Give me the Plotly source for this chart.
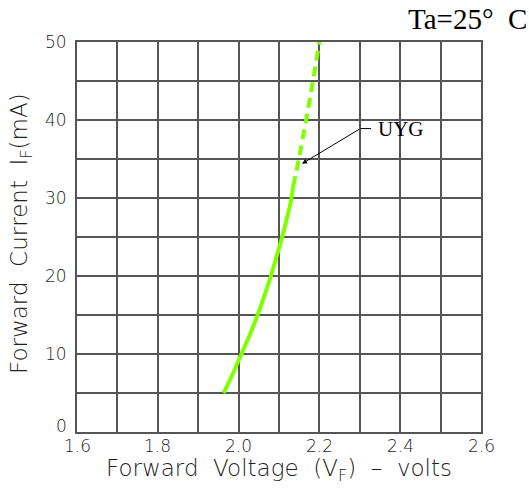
import plotly.graph_objects as go

# Forward voltage (V) vs forward current (mA) for UYG, Ta=25°C
v_solid = [1.963, 1.986, 2.007, 2.028, 2.047, 2.064, 2.080, 2.094, 2.108, 2.120, 2.131, 2.135]
i_solid = [5, 7.5, 10, 12.5, 15, 17.5, 20, 22.5, 25, 27.5, 30, 31.5]
v_dash = [2.135, 2.149, 2.167, 2.184, 2.200]
i_dash = [31.5, 35, 40, 45, 50]

x_ticks = [1.6, 1.8, 2.0, 2.2, 2.4, 2.6]
x_tick_text = ["1.6", "1.8", "2.0", "2.2", "2.4", "2.6"]
y_ticks = [0, 10, 20, 30, 40, 50]

GREEN = "#80FF00"
GRID = "#555555"
TICKFONT = dict(family="DejaVu Sans", size=17, color="#222222", weight=300)
TITLEFONT = dict(family="DejaVu Sans", size=23, color="#222222", weight=300)

fig = go.Figure()
fig.add_trace(go.Scatter(x=v_solid, y=i_solid, mode="lines",
                         line=dict(color=GREEN, width=4, shape="spline"),
                         showlegend=False, hoverinfo="skip"))
fig.add_trace(go.Scatter(x=v_dash, y=i_dash, mode="lines",
                         line=dict(color=GREEN, width=4, dash="10px,6px", shape="spline"),
                         showlegend=False, hoverinfo="skip"))

fig.update_xaxes(range=[1.6, 2.6], dtick=0.1, tickmode="linear", tick0=1.6,
                 showgrid=True, gridcolor=GRID, gridwidth=1.5,
                 showline=True, linecolor=GRID, linewidth=1.5, mirror=True,
                 zeroline=False, ticks="", showticklabels=False)
fig.update_yaxes(range=[0, 50], dtick=5, tickmode="linear", tick0=0,
                 showgrid=True, gridcolor=GRID, gridwidth=1.5,
                 showline=True, linecolor=GRID, linewidth=1.5, mirror=True,
                 zeroline=False, ticks="", showticklabels=False)

annotations = []
for xv, xt in zip(x_ticks, x_tick_text):
    annotations.append(dict(x=xv, y=0, xref="x", yref="y", text=xt, showarrow=False,
                            font=TICKFONT, xanchor="center", yanchor="top", yshift=-2))
for yv in y_ticks:
    annotations.append(dict(x=1.6, y=yv, xref="x", yref="y", text=str(yv), showarrow=False,
                            font=TICKFONT, xanchor="right", yanchor="middle", xshift=-8,
                            yshift=6 if yv == 0 else 0))

annotations += [
    dict(x=0.5, y=0, xref="paper", yref="paper", text="Forward  Voltage  (V<sub>F</sub>)  –  volts",
         showarrow=False, font=TITLEFONT, xanchor="center", yanchor="middle", yshift=-38),
    dict(x=0, y=0.5, xref="paper", yref="paper", text="Forward  Current  I<sub>F</sub>(mA)",
         showarrow=False, font=TITLEFONT, textangle=-90, xanchor="center", yanchor="middle",
         xshift=-56, yshift=3),
    dict(x=1, y=1, xref="paper", yref="paper", text="Ta=25°  C", showarrow=False,
         font=dict(family="Liberation Serif", size=29, color="black"),
         xanchor="right", yanchor="middle", xshift=48, yshift=23),
    dict(x=2.157, y=34.4, xref="x", yref="y", ax=2.3014, ay=38.9, axref="x", ayref="y",
         text="", showarrow=True, arrowhead=2, arrowsize=1, arrowwidth=1, arrowcolor="black"),
    dict(x=2.403, y=38.8, xref="x", yref="y", text="UYG", showarrow=False,
         font=dict(family="Liberation Serif", size=21, color="black"),
         xanchor="center", yanchor="middle"),
]

fig.add_shape(type="line", x0=2.3014, y0=38.9, x1=2.328, y1=38.9, xref="x", yref="y",
              line=dict(color="black", width=1))

fig.update_layout(width=529, height=496, margin=dict(l=77, r=48, t=42, b=64),
                  paper_bgcolor="white", plot_bgcolor="white", annotations=annotations)

fig.write_html("out.html")
